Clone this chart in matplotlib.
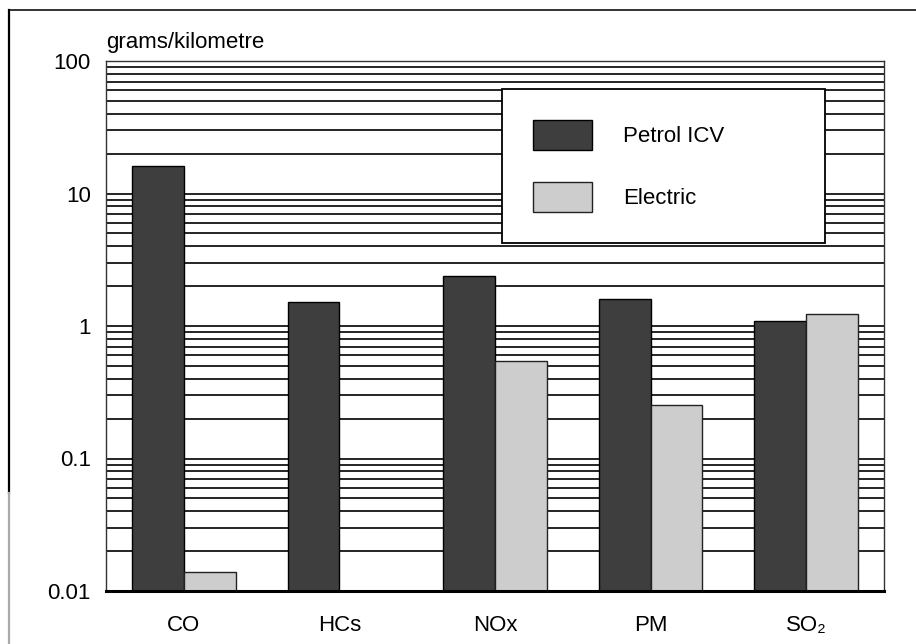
import matplotlib
matplotlib.use("Agg")
import matplotlib.pyplot as plt
import numpy as np
from matplotlib.lines import Line2D
from matplotlib.ticker import FixedLocator, FixedFormatter, NullFormatter

plt.rcParams['font.family'] = ['Liberation Sans', 'DejaVu Sans']

categories = ["CO", "HCs", "NOx", "PM", "SO\u2082"]
petrol = [16.1, 1.52, 2.37, 1.60, 1.09]
electric = [0.0138, np.nan, 0.545, 0.252, 1.225]
series_names = ["Petrol ICV", "Electric"]
ytick_values = [0.01, 0.1, 1, 10, 100]
ytick_labels = ["0.01", "0.1", "1", "10", "100"]
ylabel = "grams/kilometre"

W, H = 916, 644
fig = plt.figure(figsize=(W / 100, H / 100), dpi=100)
ax = fig.add_axes([106 / W, 1 - 591 / H, 778 / W, 530 / H])

x = np.arange(len(categories)) + 0.5
bw = 1 / 3
petrol_col = "#3e3e3e"
elec_col = "#cdcdcd"

ax.bar(x - bw / 2, petrol, width=bw, color=petrol_col, edgecolor="black",
       linewidth=1.0, label=series_names[0], zorder=3)
ax.bar(x + bw / 2, electric, width=bw, color=elec_col, edgecolor="#222222",
       linewidth=1.0, label=series_names[1], zorder=3)

ax.set_yscale("log")
ax.set_ylim(0.01, 100)
ax.set_xlim(0, len(categories))

ax.yaxis.set_major_locator(FixedLocator(ytick_values))
ax.yaxis.set_major_formatter(FixedFormatter(ytick_labels))
minor = [m * d for d in [0.01, 0.1, 1, 10] for m in range(2, 10)]
ax.yaxis.set_minor_locator(FixedLocator(minor))
ax.yaxis.set_minor_formatter(NullFormatter())
ax.grid(True, which="both", axis="y", color="black", linewidth=1.2, zorder=1)
ax.set_axisbelow(True)

ax.set_xticks(x)
ax.set_xticklabels(categories)
ax.tick_params(axis="both", which="both", length=0, labelsize=16)
ax.tick_params(axis="y", pad=11)
ax.tick_params(axis="x", pad=17)

for s in ["left", "right", "top"]:
    ax.spines[s].set_linewidth(1.0)
    ax.spines[s].set_color("#333333")
ax.spines["bottom"].set_linewidth(2.2)
ax.spines["bottom"].set_color("black")
ax.spines["bottom"].set_zorder(4)

leg = ax.legend(loc="upper left", bbox_to_anchor=(0.509, 0.662, 0.415, 0.285),
                mode="expand", ncols=1, fontsize=16, frameon=True, fancybox=False,
                framealpha=1, edgecolor="black", borderpad=1.38,
                handlelength=2.66, handleheight=1.7, handletextpad=1.4,
                labelspacing=1.45, borderaxespad=0)
leg.get_frame().set_linewidth(1.3)
leg.set_zorder(5)

fig.text(106 / W, 1 - 48 / H, ylabel, fontsize=16, ha="left", va="baseline")

# outer frame lines
fig.add_artist(Line2D([9 / W, 1.0], [1 - 10 / H, 1 - 10 / H], color="#222222",
                      linewidth=1.3, transform=fig.transFigure))
fig.add_artist(Line2D([9 / W, 9 / W], [1 - 10 / H, 1 - 493 / H], color="black",
                      linewidth=1.6, transform=fig.transFigure))
fig.add_artist(Line2D([9 / W, 9 / W], [1 - 493 / H, 0], color="#aaaaaa",
                      linewidth=1.6, transform=fig.transFigure))

fig.savefig("out.png", dpi=100)
